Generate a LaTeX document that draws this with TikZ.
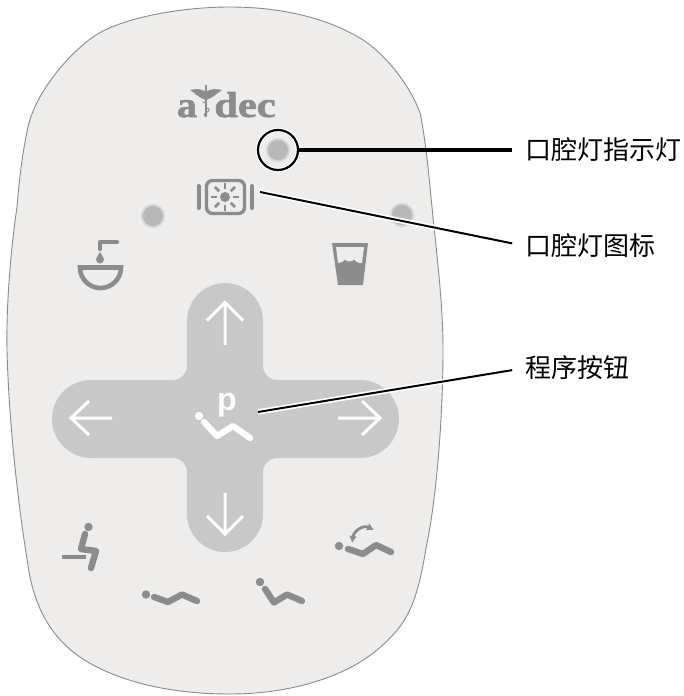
\documentclass[tikz,border=0pt]{standalone}
\usepackage{fontspec}
\usepackage{graphicx}
\usetikzlibrary{arrows.meta}
\newfontfamily\cjk{Noto Sans CJK SC}
\newfontfamily\logofont[BoldFeatures={FakeBold=1.6}]{Liberation Serif}
\newfontfamily\sansf{Liberation Sans}
\definecolor{panel}{HTML}{EEEDEC}
\definecolor{edge}{HTML}{8A8A88}
\definecolor{icon}{HTML}{8C8C8C}
\definecolor{pad}{HTML}{C8C8C8}
\definecolor{led}{HTML}{B8B8B8}
\tikzset{
  ico/.style={draw=icon,line width=6.4pt,line cap=round,line join=round},
  arrowline/.style={draw=white,line width=3pt,line cap=butt,line join=miter},
  label/.style={font=\cjk\fontsize{26}{26}\selectfont,text=black,inner sep=0pt,anchor=west},
  logotext/.style={inner sep=0pt,anchor=base,text=icon,font=\logofont\bfseries\fontsize{36}{36}\selectfont},
  halo/.style={draw=white,line width=5.4pt,shorten >=13pt},
  lead/.style={draw=black,line width=2pt,shorten >=13pt},
  ledspot/.style={circle,minimum size=20pt,inner sep=0pt,fill=led,draw=none},
  ledglow/.style={circle,minimum size=24pt,inner sep=0pt,fill=led!45!panel,draw=none}
}
\begin{document}
\begin{tikzpicture}[x=1pt,y=-1pt]
\useasboundingbox (0,0) rectangle (683,696);
\fill[white] (0,0) rectangle (683,696);
% panel
\draw[draw=edge,line width=0.9pt,fill=panel]
 (230,7) .. controls (290,7) and (335,22) .. (363,40)
 .. controls (385,54) and (410,85) .. (420,113)
 .. controls (424,130) and (428,165) .. (430,187)
 .. controls (436,250) and (443,300) .. (443,350)
 .. controls (443,420) and (436,500) .. (427,543)
 .. controls (423,565) and (420,585) .. (412,605)
 .. controls (405,622) and (395,635) .. (377,650)
 .. controls (345,677) and (290,694) .. (230,694)
 .. controls (170,694) and (125,682) .. (93,665)
 .. controls (65,650) and (40,625) .. (30,577)
 .. controls (20,520) and (9,430) .. (7,350)
 .. controls (6,300) and (12,240) .. (17,207)
 .. controls (20,170) and (24,145) .. (28,127)
 .. controls (35,95) and (65,57) .. (93,37)
 .. controls (120,18) and (180,7) .. (230,7) -- cycle;
% logo
\node[logotext] (loga) at (187,117) {\scalebox{1.12}[1]{a}};
\node[logotext] (logb) at (245,117) {\scalebox{1.18}[1]{dec}};
\draw[draw=icon,line width=1.4pt] (206,85) -- (206,117);
\fill[icon] (206,92) .. controls (201,88) and (195,89) .. (190,90) .. controls (194,92) and (197,97) .. (206,100) -- cycle;
\fill[icon] (206,92) .. controls (211,88) and (217,89) .. (222,90) .. controls (218,92) and (215,97) .. (206,100) -- cycle;
\draw[draw=icon,line width=1pt] (203,102) .. controls (210,104) and (202,107) .. (209,109) .. controls (210,112) and (203,113) .. (204,116);
% LEDs
\node[ledglow] (glowtop) at (278,150) {};
\node[ledglow] (glowleft) at (153,216) {};
\node[ledglow] (glowright) at (402,215) {};
\node[ledspot] (ledtop) at (278,150) {};
\node[ledspot] (ledleft) at (153,216) {};
\node[ledspot] (ledright) at (402,215) {};
% lamp icon
\draw[draw=icon,line width=3.4pt,rounded corners=6pt] (206.5,180.5) rectangle (244.5,213.5);
\draw[draw=icon,line width=4pt,line cap=round] (198.5,186) -- (198.5,208);
\draw[draw=icon,line width=4pt,line cap=round] (251.5,186) -- (251.5,208);
\fill[icon] (225,197) circle (5);
\foreach \a in {0,45,...,315}{
  \draw[draw=icon,line width=2.8pt] (225,197) ++(\a:8.2) -- ++(\a:6);
}
% basin icon
\draw[draw=icon,line width=4.4pt,line join=round,line cap=round] (100,249) -- (100,242) -- (117,242);
\fill[icon] (100,252) .. controls (98,256) and (96,257.5) .. (96,259.5) arc (180:0:4) .. controls (104,257.5) and (102,256) .. (100,252) -- cycle;
\draw[draw=icon,line width=4.6pt,line join=miter] (80,267.5) -- (121,267.5) arc (0:180:20.5) -- cycle;
% cup icon
\fill[icon] (332,243) -- (368,243) -- (363,285) -- (338,285) -- cycle;
\fill[panel] (336,247) -- (364,247) -- (362,263) .. controls (358,263) and (356,262) .. (354,259.5) .. controls (352,262) and (347,262) .. (345,259.5) .. controls (343,262) and (341,263) .. (338,263) -- cycle;
% pad
\fill[pad] (187,321) arc (180:360:38) -- (263,366) arc (180:90:14) -- (360,380) arc (-90:90:39) -- (277,458) arc (-90:-180:14) -- (263,514) arc (0:180:38) -- (187,472) arc (0:-90:14) -- (91,458) arc (90:270:39) -- (173,380) arc (90:0:14) -- cycle;
% pad arrows
\draw[arrowline] (225,345) -- (225,303) (207,320.5) -- (225,302.5) -- (243,320.5);
\draw[arrowline] (225,493) -- (225,534) (207,516) -- (225,534) -- (243,516);
\draw[arrowline] (112,418) -- (71,418) (89,401) -- (71,418) -- (89,435);
\draw[arrowline] (338,418) -- (380,418) (362,401) -- (380,418) -- (362,435);
% program icon
\node[inner sep=0pt,anchor=base,text=white,font=\sansf\bfseries\fontsize{32}{32}\selectfont] (prog) at (227,410) {p};
\fill[white] (199,416) circle (4.2);
\draw[draw=white,line width=6.2pt,line cap=round,line join=round] (204,422) -- (217,436) -- (233,426) -- (250,438);
% seat-up icon
\fill[icon] (88.5,527) circle (4.2);
\draw[ico] (85,534) -- (81,549) -- (96,551) -- (91,568);
\draw[draw=icon,line width=3.4pt] (62,557) -- (86,557);
% flat icon
\fill[icon] (146,594.5) circle (4.2);
\draw[ico] (154,597) -- (168,602) -- (182,594.5) -- (197,601);
% recline icon
\fill[icon] (260,582) circle (4.2);
\draw[ico] (265,589) -- (274,602.5) -- (287,594.5) -- (302,601);
% last position icon
\fill[icon] (339,546) circle (4.2);
\draw[ico] (348,549) -- (363,554) -- (376,545) -- (391,552);
\draw[icon,line width=2.8pt,{Latex[length=7pt,width=8pt]}-{Latex[length=7pt,width=8pt]}] (352,543) .. controls (354,530) and (364,525) .. (374,530);
% labels
\node[label] (lab1) at (525,150) {口腔灯指示灯};
\node[label] (lab2) at (525,246) {口腔灯图标};
\node[label] (lab3) at (525,368) {程序按钮};
% leaders
\node[circle,draw=white,line width=4.6pt,minimum size=40pt,inner sep=0pt] (ringw) at (278,150) {};
\node[circle,draw=black,line width=2.2pt,minimum size=40pt,inner sep=0pt] (ring) at (278,150) {};
\coordinate (c2) at (260,192);
\coordinate (c3) at (258,412);
\draw[lead,line width=3.3pt] (ring.east) -- (lab1.west);
\draw[halo] (c2) -- (lab2.west);
\draw[lead] (c2) -- (lab2.west);
\draw[halo] (c3) -- (lab3.west);
\draw[lead] (c3) -- (lab3.west);
\end{tikzpicture}
\end{document}
